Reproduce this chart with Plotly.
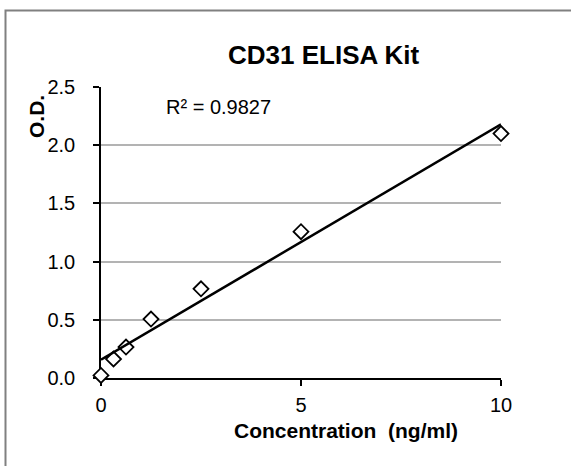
import numpy as np
import plotly.graph_objects as go

# Data
concentration = [0, 0.3125, 0.625, 1.25, 2.5, 5, 10]
od_values = [0.022, 0.163, 0.266, 0.506, 0.766, 1.257, 2.10]
x_ticks = [0, 5, 10]
y_ticks = [0.0, 0.5, 1.0, 1.5, 2.0, 2.5]
y_tick_labels = ["0.0", "0.5", "1.0", "1.5", "2.0", "2.5"]
title_text = "CD31 ELISA Kit"
r2_text = "R² = 0.9827"
x_title = "Concentration  (ng/ml)"
y_title = "O.D."

# Linear trendline from the data
slope, intercept = np.polyfit(concentration, od_values, 1)
trend_x = [0, 10]
trend_y = [intercept + slope * v for v in trend_x]

FONT = "Liberation Sans, Arial, sans-serif"

W, H = 571, 466
L, R, T, B = 101, 70, 87, 88
pw, ph = W - L - R, H - T - B

def px(xp):
    return (xp - L) / pw

def py(yp):
    return (H - B - yp) / ph

fig = go.Figure()
fig.add_trace(go.Scatter(
    x=concentration, y=od_values, mode="markers",
    marker=dict(symbol="diamond", size=11.5, color="white",
                line=dict(color="black", width=1.8)),
    cliponaxis=False, showlegend=False, hoverinfo="x+y"))
fig.add_trace(go.Scatter(
    x=trend_x, y=trend_y, mode="lines",
    line=dict(color="black", width=2.5),
    cliponaxis=False, showlegend=False, hoverinfo="skip"))

fig.update_layout(
    width=W, height=H,
    margin=dict(l=L, r=R, t=T, b=B, pad=0),
    paper_bgcolor="white", plot_bgcolor="white",
    font=dict(family=FONT, color="black", size=19),
    showlegend=False,
    xaxis=dict(range=[0, 10], tickvals=x_ticks, ticktext=[str(v) for v in x_ticks],
               showgrid=False, zeroline=False, showline=True, linecolor="black",
               linewidth=1.5, ticks="outside", ticklen=6, tickwidth=1.5, tickcolor="black",
               tickfont=dict(size=20, family=FONT), ticklabelstandoff=2,
               layer="below traces", fixedrange=True),
    yaxis=dict(range=[0, 2.5], tickvals=y_ticks, ticktext=y_tick_labels,
               showgrid=True, gridcolor="#b3b3b3", gridwidth=2,
               zeroline=False, showline=True, linecolor="black", linewidth=1.5,
               ticks="outside", ticklen=6, tickwidth=1.5, tickcolor="black",
               tickfont=dict(size=20, family=FONT), ticklabelstandoff=14,
               layer="below traces", fixedrange=True),
    shapes=[dict(type="rect", xref="paper", yref="paper",
                 x0=px(5.5), x1=px(590), y0=py(490), y1=py(10.5),
                 line=dict(color="#808080", width=2), fillcolor="rgba(0,0,0,0)",
                 layer="below")],
    annotations=[
        dict(text="<b>" + title_text + "</b>", x=px(324), y=py(55), xref="paper", yref="paper",
             showarrow=False, xanchor="center", yanchor="middle",
             font=dict(size=26, family=FONT)),
        dict(text=r2_text, x=px(164), y=py(107), xref="paper", yref="paper",
             showarrow=False, xanchor="left", yanchor="middle",
             font=dict(size=20, family=FONT)),
        dict(text="<b>" + y_title + "</b>", x=px(37), y=py(117), xref="paper", yref="paper",
             showarrow=False, xanchor="center", yanchor="middle", textangle=-90,
             font=dict(size=21, family=FONT)),
        dict(text="<b>" + x_title + "</b>", x=px(346), y=py(430), xref="paper", yref="paper",
             showarrow=False, xanchor="center", yanchor="middle",
             font=dict(size=21, family=FONT)),
    ],
)

fig.write_html("out.html", config={"displayModeBar": False},
               post_script="document.body.style.margin='0';document.body.style.overflow='hidden';")
